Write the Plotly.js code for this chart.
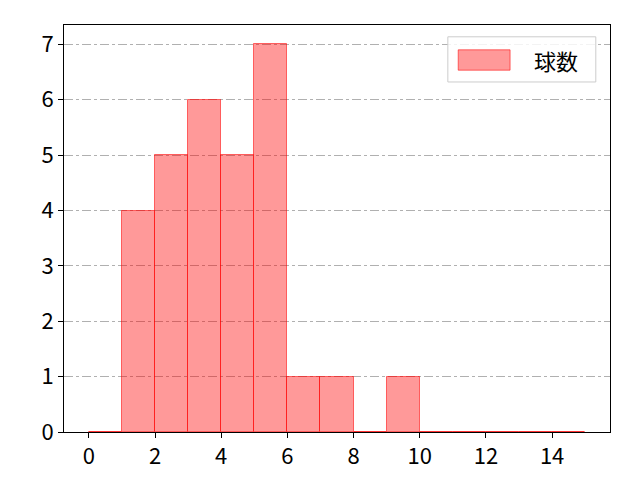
<!DOCTYPE html>
<html>
<head>
<meta charset="utf-8">
<script src="https://cdn.plot.ly/plotly-3.0.1.min.js"></script>
<style>body{margin:0;background:#fff}</style>
</head>
<body>
<div id="chart" style="width:640px;height:480px"></div>
<script>
// histogram bins (left edges, width 1) and counts
var binLeft = [0, 1, 2, 3, 4, 5, 6, 7, 8, 9, 10, 11, 12, 13, 14];
var counts  = [0, 4, 5, 6, 5, 7, 1, 1, 0, 1, 0, 0, 0, 0, 0];
var seriesName = '球数';
var xTicks = [0, 2, 4, 6, 8, 10, 12, 14];
var yTicks = [0, 1, 2, 3, 4, 5, 6, 7];

var fill = 'rgba(255,0,0,0.4)';
var edge = 'rgba(255,0,0,0.55)';

var data = [{
    type: 'bar',
    name: seriesName,
    x: binLeft,
    y: counts,
    width: 1,
    offset: 0,
    marker: {color: fill, line: {color: edge, width: 1}},
    showlegend: false
}];

// legend drawn like matplotlib's (wide patch, grey frame)
var layout = {
    width: 640,
    height: 480,
    margin: {l: 64, r: 30, t: 25, b: 48},
    paper_bgcolor: 'white',
    plot_bgcolor: 'white',
    font: {family: 'Noto Sans CJK JP, DejaVu Sans, sans-serif', size: 22, color: 'black'},
    xaxis: {
        range: [-0.75, 15.75],
        tickvals: xTicks,
        ticks: 'outside', ticklen: 5, tickcolor: 'black',
        showgrid: false, zeroline: false,
        showline: true, linecolor: 'black', linewidth: 1, mirror: true
    },
    yaxis: {
        range: [0, 7.35],
        tickvals: yTicks,
        ticks: 'outside', ticklen: 5, tickcolor: 'black',
        showgrid: true, gridcolor: '#b0b0b0', griddash: 'dashdot', gridwidth: 0.8,
        zeroline: false,
        showline: true, linecolor: 'black', linewidth: 1, mirror: true
    },
    bargap: 0,
    shapes: [
        {type: 'rect', xref: 'paper', yref: 'paper', x0: 0.703, x1: 0.974, y0: 0.860, y1: 0.971,
         fillcolor: 'rgba(255,255,255,0.85)', line: {color: '#cccccc', width: 1}, layer: 'above'},
        {type: 'rect', xref: 'paper', yref: 'paper', x0: 0.722, x1: 0.817, y0: 0.889, y1: 0.939,
         fillcolor: fill, line: {color: edge, width: 1}, layer: 'above'}
    ],
    annotations: [
        {xref: 'paper', yref: 'paper', x: 0.857, y: 0.914, xanchor: 'left', yanchor: 'middle',
         text: seriesName, showarrow: false, font: {size: 22}}
    ]
};

Plotly.newPlot('chart', data, layout, {displayModeBar: false});
</script>
</body>
</html>
